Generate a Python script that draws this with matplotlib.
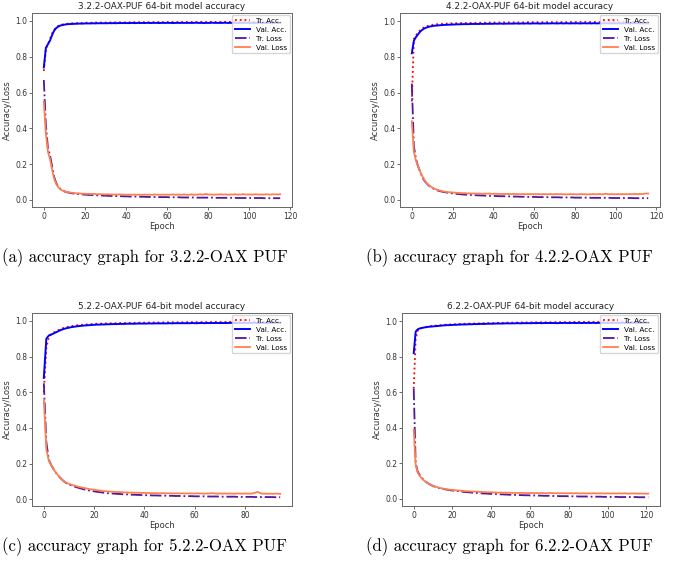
import numpy as np
import matplotlib
matplotlib.use("Agg")
from matplotlib import pyplot as plt

# ---- panel (a) 3.2.2-OAX PUF ----
a_tr_acc = [
    0.72, 0.84, 0.87, 0.90, 0.93, 0.95, 0.965, 0.972, 0.977, 0.980,
    0.982, 0.984, 0.985, 0.986, 0.987, 0.987, 0.988, 0.988, 0.989, 0.989,
    0.989, 0.990, 0.990, 0.990, 0.990, 0.991, 0.991, 0.991, 0.991, 0.991,
    0.991, 0.992, 0.991, 0.992, 0.992, 0.992, 0.992, 0.992, 0.992, 0.992,
    0.992, 0.993, 0.992, 0.993, 0.993, 0.993, 0.993, 0.993, 0.993, 0.993,
    0.993, 0.993, 0.993, 0.993, 0.993, 0.993, 0.994, 0.993, 0.993, 0.994,
    0.994, 0.993, 0.994, 0.994, 0.994, 0.994, 0.994, 0.994, 0.994, 0.994,
    0.994, 0.994, 0.994, 0.994, 0.994, 0.994, 0.994, 0.995, 0.994, 0.994,
    0.994, 0.995, 0.994, 0.995, 0.994, 0.995, 0.995, 0.994, 0.995, 0.995,
    0.995, 0.995, 0.995, 0.995, 0.995, 0.995, 0.995, 0.995, 0.995, 0.995,
    0.995, 0.995, 0.995, 0.995, 0.995, 0.995, 0.995, 0.995, 0.995, 0.995,
    0.995, 0.995, 0.995, 0.995, 0.995, 0.995]
a_val_acc = [
    0.74, 0.85, 0.87, 0.89, 0.92, 0.945, 0.96, 0.968, 0.974, 0.977,
    0.979, 0.981, 0.982, 0.983, 0.983, 0.984, 0.984, 0.985, 0.985, 0.985,
    0.986, 0.986, 0.986, 0.986, 0.987, 0.986, 0.987, 0.987, 0.987, 0.987,
    0.987, 0.987, 0.988, 0.987, 0.988, 0.987, 0.988, 0.988, 0.988, 0.988,
    0.988, 0.988, 0.988, 0.989, 0.988, 0.988, 0.989, 0.988, 0.989, 0.988,
    0.989, 0.989, 0.988, 0.989, 0.989, 0.989, 0.988, 0.989, 0.989, 0.989,
    0.989, 0.989, 0.989, 0.988, 0.989, 0.989, 0.989, 0.989, 0.989, 0.989,
    0.989, 0.989, 0.989, 0.989, 0.990, 0.989, 0.989, 0.989, 0.988, 0.989,
    0.989, 0.989, 0.990, 0.989, 0.989, 0.989, 0.989, 0.989, 0.990, 0.989,
    0.989, 0.989, 0.989, 0.990, 0.989, 0.989, 0.989, 0.989, 0.990, 0.989,
    0.989, 0.989, 0.989, 0.989, 0.989, 0.990, 0.989, 0.989, 0.989, 0.989,
    0.989, 0.989, 0.989, 0.990, 0.989, 0.989]
a_tr_loss = [
    0.67, 0.42, 0.29, 0.25, 0.19, 0.13, 0.095, 0.075, 0.062, 0.054,
    0.048, 0.044, 0.041, 0.039, 0.037, 0.035, 0.034, 0.033, 0.032, 0.031,
    0.030, 0.029, 0.028, 0.028, 0.027, 0.026, 0.026, 0.025, 0.025, 0.024,
    0.024, 0.023, 0.023, 0.022, 0.022, 0.022, 0.021, 0.021, 0.021, 0.020,
    0.020, 0.020, 0.019, 0.019, 0.019, 0.019, 0.018, 0.018, 0.018, 0.018,
    0.017, 0.017, 0.017, 0.017, 0.017, 0.016, 0.016, 0.016, 0.016, 0.016,
    0.016, 0.015, 0.015, 0.015, 0.015, 0.015, 0.015, 0.014, 0.014, 0.014,
    0.014, 0.014, 0.014, 0.014, 0.013, 0.013, 0.013, 0.013, 0.013, 0.013,
    0.013, 0.013, 0.013, 0.012, 0.012, 0.012, 0.012, 0.012, 0.012, 0.012,
    0.012, 0.012, 0.012, 0.012, 0.011, 0.011, 0.011, 0.011, 0.011, 0.011,
    0.011, 0.011, 0.011, 0.011, 0.011, 0.011, 0.011, 0.010, 0.010, 0.010,
    0.010, 0.010, 0.010, 0.010, 0.010, 0.010]
a_val_loss = [
    0.55, 0.37, 0.27, 0.23, 0.17, 0.12, 0.09, 0.072, 0.060, 0.053,
    0.048, 0.045, 0.043, 0.041, 0.040, 0.038, 0.037, 0.037, 0.036, 0.035,
    0.035, 0.034, 0.034, 0.033, 0.034, 0.033, 0.032, 0.033, 0.032, 0.032,
    0.031, 0.032, 0.031, 0.031, 0.030, 0.031, 0.030, 0.031, 0.030, 0.030,
    0.029, 0.030, 0.030, 0.029, 0.030, 0.029, 0.030, 0.029, 0.029, 0.030,
    0.029, 0.030, 0.029, 0.029, 0.031, 0.029, 0.030, 0.029, 0.030, 0.029,
    0.030, 0.029, 0.030, 0.031, 0.029, 0.030, 0.030, 0.029, 0.031, 0.030,
    0.029, 0.030, 0.031, 0.029, 0.030, 0.030, 0.032, 0.030, 0.031, 0.034,
    0.030, 0.031, 0.030, 0.029, 0.031, 0.030, 0.032, 0.030, 0.031, 0.030,
    0.029, 0.031, 0.030, 0.032, 0.030, 0.031, 0.030, 0.033, 0.030, 0.031,
    0.030, 0.031, 0.030, 0.032, 0.031, 0.030, 0.031, 0.030, 0.032, 0.031,
    0.030, 0.031, 0.032, 0.031, 0.031, 0.032]

# ---- panel (b) 4.2.2-OAX PUF ----
b_tr_acc = [
    0.55, 0.90, 0.92, 0.935, 0.948, 0.958, 0.965, 0.970, 0.974, 0.977,
    0.979, 0.981, 0.982, 0.983, 0.984, 0.985, 0.986, 0.986, 0.987, 0.987,
    0.988, 0.988, 0.988, 0.989, 0.989, 0.989, 0.989, 0.990, 0.990, 0.990,
    0.990, 0.990, 0.991, 0.991, 0.991, 0.991, 0.991, 0.991, 0.992, 0.992,
    0.992, 0.992, 0.992, 0.992, 0.992, 0.993, 0.992, 0.993, 0.993, 0.993,
    0.993, 0.993, 0.993, 0.993, 0.993, 0.993, 0.993, 0.994, 0.993, 0.994,
    0.994, 0.994, 0.994, 0.994, 0.994, 0.994, 0.994, 0.994, 0.994, 0.994,
    0.994, 0.994, 0.994, 0.994, 0.995, 0.994, 0.994, 0.995, 0.995, 0.994,
    0.995, 0.995, 0.995, 0.995, 0.995, 0.995, 0.995, 0.995, 0.995, 0.995,
    0.995, 0.995, 0.995, 0.995, 0.995, 0.995, 0.995, 0.995, 0.995, 0.995,
    0.995, 0.996, 0.995, 0.995, 0.996, 0.995, 0.996, 0.995, 0.996, 0.996,
    0.996, 0.996, 0.996, 0.996, 0.996, 0.996, 0.996]
b_val_acc = [
    0.82, 0.89, 0.91, 0.925, 0.94, 0.95, 0.958, 0.963, 0.967, 0.970,
    0.972, 0.974, 0.975, 0.976, 0.977, 0.978, 0.979, 0.979, 0.980, 0.980,
    0.981, 0.981, 0.982, 0.982, 0.982, 0.983, 0.983, 0.983, 0.983, 0.984,
    0.984, 0.984, 0.984, 0.984, 0.985, 0.984, 0.985, 0.985, 0.985, 0.985,
    0.985, 0.986, 0.985, 0.986, 0.986, 0.985, 0.986, 0.986, 0.986, 0.986,
    0.986, 0.987, 0.986, 0.986, 0.987, 0.986, 0.987, 0.987, 0.986, 0.987,
    0.987, 0.987, 0.987, 0.986, 0.987, 0.987, 0.987, 0.987, 0.987, 0.988,
    0.987, 0.987, 0.987, 0.988, 0.987, 0.987, 0.988, 0.987, 0.987, 0.988,
    0.987, 0.988, 0.987, 0.987, 0.988, 0.988, 0.987, 0.988, 0.987, 0.988,
    0.988, 0.987, 0.988, 0.988, 0.987, 0.988, 0.988, 0.988, 0.987, 0.988,
    0.988, 0.988, 0.987, 0.988, 0.988, 0.988, 0.988, 0.987, 0.988, 0.988,
    0.988, 0.988, 0.988, 0.987, 0.988, 0.988, 0.988]
b_tr_loss = [
    0.65, 0.30, 0.23, 0.19, 0.16, 0.13, 0.11, 0.095, 0.083, 0.074,
    0.066, 0.060, 0.055, 0.051, 0.048, 0.045, 0.043, 0.041, 0.039, 0.037,
    0.036, 0.034, 0.033, 0.032, 0.031, 0.030, 0.029, 0.028, 0.028, 0.027,
    0.026, 0.026, 0.025, 0.025, 0.024, 0.024, 0.023, 0.023, 0.022, 0.022,
    0.022, 0.021, 0.021, 0.020, 0.020, 0.020, 0.019, 0.019, 0.019, 0.018,
    0.018, 0.018, 0.018, 0.017, 0.017, 0.017, 0.017, 0.016, 0.016, 0.016,
    0.016, 0.016, 0.015, 0.015, 0.015, 0.015, 0.015, 0.014, 0.014, 0.014,
    0.014, 0.014, 0.014, 0.013, 0.013, 0.013, 0.013, 0.013, 0.013, 0.013,
    0.012, 0.012, 0.012, 0.012, 0.012, 0.012, 0.012, 0.012, 0.011, 0.011,
    0.011, 0.011, 0.011, 0.011, 0.011, 0.011, 0.011, 0.011, 0.010, 0.010,
    0.010, 0.010, 0.010, 0.010, 0.010, 0.010, 0.010, 0.010, 0.010, 0.009,
    0.009, 0.009, 0.009, 0.009, 0.009, 0.009, 0.009]
b_val_loss = [
    0.44, 0.27, 0.22, 0.19, 0.16, 0.135, 0.115, 0.097, 0.085, 0.076,
    0.069, 0.063, 0.058, 0.054, 0.051, 0.048, 0.046, 0.044, 0.043, 0.042,
    0.041, 0.040, 0.039, 0.038, 0.038, 0.037, 0.037, 0.036, 0.036, 0.035,
    0.035, 0.035, 0.034, 0.035, 0.034, 0.034, 0.035, 0.034, 0.035, 0.033,
    0.033, 0.034, 0.033, 0.033, 0.032, 0.033, 0.032, 0.033, 0.032, 0.032,
    0.033, 0.032, 0.032, 0.031, 0.032, 0.032, 0.031, 0.032, 0.032, 0.031,
    0.032, 0.031, 0.032, 0.031, 0.031, 0.032, 0.031, 0.031, 0.032, 0.031,
    0.031, 0.032, 0.031, 0.032, 0.031, 0.031, 0.030, 0.031, 0.032, 0.031,
    0.031, 0.030, 0.031, 0.032, 0.031, 0.031, 0.030, 0.031, 0.031, 0.032,
    0.031, 0.031, 0.032, 0.031, 0.031, 0.034, 0.032, 0.031, 0.032, 0.031,
    0.031, 0.032, 0.031, 0.032, 0.031, 0.032, 0.031, 0.032, 0.031, 0.033,
    0.032, 0.031, 0.033, 0.032, 0.034, 0.035, 0.035]

# ---- panel (c) 5.2.2-OAX PUF ----
c_tr_acc = [
    0.60, 0.85, 0.91, 0.925, 0.935, 0.943, 0.950, 0.956, 0.961, 0.965,
    0.968, 0.971, 0.973, 0.975, 0.977, 0.978, 0.979, 0.980, 0.981, 0.982,
    0.983, 0.984, 0.984, 0.985, 0.985, 0.986, 0.986, 0.987, 0.987, 0.987,
    0.988, 0.988, 0.988, 0.989, 0.989, 0.989, 0.989, 0.990, 0.990, 0.990,
    0.990, 0.990, 0.991, 0.991, 0.991, 0.991, 0.991, 0.991, 0.992, 0.992,
    0.992, 0.992, 0.992, 0.992, 0.992, 0.992, 0.993, 0.993, 0.993, 0.993,
    0.993, 0.993, 0.993, 0.993, 0.993, 0.993, 0.994, 0.993, 0.994, 0.994,
    0.994, 0.994, 0.994, 0.994, 0.994, 0.994, 0.994, 0.994, 0.994, 0.994,
    0.994, 0.995, 0.994, 0.995, 0.995, 0.994, 0.995, 0.995, 0.995, 0.995,
    0.995, 0.995, 0.995, 0.995, 0.995]
c_val_acc = [
    0.68, 0.90, 0.918, 0.924, 0.930, 0.937, 0.944, 0.950, 0.955, 0.959,
    0.962, 0.965, 0.967, 0.969, 0.971, 0.972, 0.974, 0.975, 0.976, 0.977,
    0.978, 0.979, 0.979, 0.980, 0.980, 0.981, 0.981, 0.982, 0.982, 0.982,
    0.983, 0.983, 0.983, 0.984, 0.984, 0.984, 0.984, 0.985, 0.985, 0.985,
    0.985, 0.985, 0.986, 0.985, 0.986, 0.986, 0.986, 0.986, 0.986, 0.986,
    0.987, 0.986, 0.987, 0.987, 0.987, 0.987, 0.987, 0.987, 0.987, 0.988,
    0.987, 0.987, 0.988, 0.988, 0.987, 0.988, 0.988, 0.988, 0.988, 0.988,
    0.988, 0.988, 0.988, 0.988, 0.989, 0.988, 0.988, 0.988, 0.989, 0.988,
    0.988, 0.989, 0.988, 0.989, 0.989, 0.987, 0.988, 0.989, 0.989, 0.988,
    0.989, 0.989, 0.989, 0.989, 0.989]
c_tr_loss = [
    0.65, 0.32, 0.22, 0.19, 0.165, 0.145, 0.128, 0.113, 0.100, 0.090,
    0.083, 0.077, 0.072, 0.067, 0.063, 0.059, 0.055, 0.052, 0.049, 0.046,
    0.044, 0.042, 0.040, 0.038, 0.036, 0.034, 0.033, 0.032, 0.031, 0.030,
    0.029, 0.028, 0.027, 0.027, 0.026, 0.025, 0.025, 0.024, 0.024, 0.023,
    0.023, 0.022, 0.022, 0.021, 0.021, 0.021, 0.020, 0.020, 0.020, 0.019,
    0.019, 0.019, 0.018, 0.018, 0.018, 0.018, 0.017, 0.017, 0.017, 0.017,
    0.016, 0.016, 0.016, 0.016, 0.016, 0.015, 0.015, 0.015, 0.015, 0.015,
    0.015, 0.014, 0.014, 0.014, 0.014, 0.014, 0.014, 0.013, 0.013, 0.013,
    0.013, 0.013, 0.013, 0.013, 0.012, 0.012, 0.012, 0.012, 0.012, 0.012,
    0.012, 0.012, 0.011, 0.011, 0.011]
c_val_loss = [
    0.56, 0.28, 0.215, 0.19, 0.165, 0.145, 0.128, 0.113, 0.100, 0.092,
    0.086, 0.081, 0.077, 0.073, 0.069, 0.066, 0.063, 0.060, 0.057, 0.055,
    0.053, 0.051, 0.049, 0.047, 0.045, 0.044, 0.043, 0.042, 0.041, 0.040,
    0.040, 0.039, 0.038, 0.038, 0.037, 0.037, 0.036, 0.036, 0.036, 0.035,
    0.035, 0.035, 0.034, 0.034, 0.034, 0.034, 0.033, 0.034, 0.033, 0.033,
    0.033, 0.033, 0.032, 0.033, 0.032, 0.033, 0.032, 0.032, 0.033, 0.032,
    0.032, 0.033, 0.032, 0.032, 0.031, 0.032, 0.032, 0.034, 0.032, 0.031,
    0.032, 0.031, 0.032, 0.031, 0.032, 0.031, 0.031, 0.032, 0.031, 0.031,
    0.032, 0.031, 0.031, 0.032, 0.036, 0.041, 0.034, 0.031, 0.031, 0.030,
    0.031, 0.030, 0.031, 0.031, 0.030]

# ---- panel (d) 6.2.2-OAX PUF ----
d_tr_acc = [
    0.62, 0.90, 0.945, 0.955, 0.960, 0.963, 0.966, 0.968, 0.970, 0.972,
    0.973, 0.974, 0.975, 0.976, 0.977, 0.978, 0.979, 0.980, 0.980, 0.981,
    0.982, 0.982, 0.983, 0.983, 0.984, 0.984, 0.985, 0.985, 0.985, 0.986,
    0.986, 0.986, 0.987, 0.987, 0.987, 0.988, 0.988, 0.988, 0.988, 0.989,
    0.989, 0.989, 0.989, 0.990, 0.990, 0.990, 0.990, 0.990, 0.991, 0.991,
    0.991, 0.991, 0.991, 0.991, 0.992, 0.992, 0.992, 0.992, 0.992, 0.992,
    0.992, 0.993, 0.993, 0.993, 0.993, 0.993, 0.993, 0.993, 0.993, 0.993,
    0.994, 0.993, 0.994, 0.994, 0.994, 0.994, 0.994, 0.994, 0.994, 0.994,
    0.994, 0.994, 0.994, 0.995, 0.994, 0.995, 0.995, 0.995, 0.995, 0.995,
    0.995, 0.995, 0.995, 0.995, 0.995, 0.995, 0.995, 0.995, 0.995, 0.995,
    0.995, 0.995, 0.995, 0.996, 0.995, 0.996, 0.995, 0.996, 0.996, 0.996,
    0.996, 0.996, 0.996, 0.996, 0.996, 0.996, 0.996, 0.996, 0.996, 0.996,
    0.996, 0.996]
d_val_acc = [
    0.82, 0.94, 0.953, 0.958, 0.961, 0.963, 0.965, 0.967, 0.968, 0.969,
    0.970, 0.971, 0.972, 0.973, 0.974, 0.975, 0.976, 0.977, 0.977, 0.978,
    0.978, 0.979, 0.979, 0.980, 0.980, 0.981, 0.981, 0.981, 0.982, 0.982,
    0.982, 0.983, 0.983, 0.983, 0.984, 0.984, 0.984, 0.984, 0.985, 0.985,
    0.985, 0.985, 0.986, 0.986, 0.986, 0.986, 0.986, 0.987, 0.987, 0.987,
    0.987, 0.987, 0.987, 0.988, 0.988, 0.987, 0.988, 0.988, 0.988, 0.988,
    0.988, 0.988, 0.989, 0.988, 0.989, 0.989, 0.988, 0.989, 0.989, 0.989,
    0.989, 0.989, 0.989, 0.989, 0.988, 0.989, 0.989, 0.989, 0.990, 0.989,
    0.989, 0.989, 0.990, 0.989, 0.989, 0.990, 0.989, 0.989, 0.990, 0.989,
    0.990, 0.989, 0.990, 0.990, 0.989, 0.990, 0.989, 0.990, 0.990, 0.989,
    0.990, 0.990, 0.989, 0.990, 0.990, 0.990, 0.989, 0.990, 0.990, 0.990,
    0.990, 0.989, 0.990, 0.990, 0.990, 0.990, 0.990, 0.989, 0.990, 0.990,
    0.990, 0.990]
d_tr_loss = [
    0.62, 0.20, 0.155, 0.135, 0.120, 0.108, 0.098, 0.090, 0.083, 0.077,
    0.072, 0.068, 0.064, 0.061, 0.058, 0.056, 0.054, 0.052, 0.050, 0.048,
    0.047, 0.045, 0.044, 0.043, 0.041, 0.040, 0.039, 0.038, 0.037, 0.036,
    0.035, 0.034, 0.033, 0.033, 0.032, 0.031, 0.030, 0.030, 0.029, 0.028,
    0.028, 0.027, 0.027, 0.026, 0.026, 0.025, 0.025, 0.024, 0.024, 0.023,
    0.023, 0.023, 0.022, 0.022, 0.021, 0.021, 0.021, 0.020, 0.020, 0.020,
    0.019, 0.019, 0.019, 0.018, 0.018, 0.018, 0.018, 0.017, 0.017, 0.017,
    0.017, 0.016, 0.016, 0.016, 0.016, 0.015, 0.015, 0.015, 0.015, 0.015,
    0.014, 0.014, 0.014, 0.014, 0.014, 0.013, 0.013, 0.013, 0.013, 0.013,
    0.013, 0.012, 0.012, 0.012, 0.012, 0.012, 0.012, 0.012, 0.011, 0.011,
    0.011, 0.011, 0.011, 0.011, 0.011, 0.011, 0.010, 0.010, 0.010, 0.010,
    0.010, 0.010, 0.010, 0.010, 0.010, 0.010, 0.009, 0.009, 0.009, 0.009,
    0.009, 0.009]
d_val_loss = [
    0.39, 0.19, 0.150, 0.130, 0.117, 0.106, 0.097, 0.090, 0.084, 0.078,
    0.073, 0.069, 0.066, 0.063, 0.060, 0.058, 0.056, 0.054, 0.052, 0.051,
    0.050, 0.049, 0.048, 0.047, 0.046, 0.045, 0.044, 0.043, 0.043, 0.042,
    0.041, 0.041, 0.040, 0.040, 0.039, 0.039, 0.038, 0.038, 0.037, 0.037,
    0.037, 0.036, 0.036, 0.035, 0.035, 0.035, 0.034, 0.035, 0.034, 0.034,
    0.034, 0.033, 0.034, 0.033, 0.033, 0.034, 0.033, 0.033, 0.032, 0.033,
    0.032, 0.033, 0.032, 0.033, 0.032, 0.032, 0.033, 0.032, 0.031, 0.032,
    0.033, 0.032, 0.032, 0.031, 0.032, 0.031, 0.032, 0.031, 0.032, 0.031,
    0.031, 0.032, 0.031, 0.031, 0.032, 0.031, 0.030, 0.031, 0.031, 0.030,
    0.031, 0.030, 0.031, 0.032, 0.030, 0.031, 0.030, 0.031, 0.030, 0.030,
    0.031, 0.030, 0.030, 0.031, 0.030, 0.030, 0.031, 0.030, 0.030, 0.031,
    0.030, 0.029, 0.030, 0.030, 0.030, 0.030, 0.029, 0.030, 0.029, 0.030,
    0.029, 0.029]

titles = ["3.2.2-OAX-PUF 64-bit model accuracy", "4.2.2-OAX-PUF 64-bit model accuracy",
          "5.2.2-OAX-PUF 64-bit model accuracy", "6.2.2-OAX-PUF 64-bit model accuracy"]
captions = ["(a) accuracy graph for 3.2.2-OAX PUF", "(b) accuracy graph for 4.2.2-OAX PUF",
            "(c) accuracy graph for 5.2.2-OAX PUF", "(d) accuracy graph for 6.2.2-OAX PUF"]
legend_labels = ["Tr. Acc.", "Val. Acc.", "Tr. Loss", "Val. Loss"]

panels = [
    (a_tr_acc, a_val_acc, a_tr_loss, a_val_loss),
    (b_tr_acc, b_val_acc, b_tr_loss, b_val_loss),
    (c_tr_acc, c_val_acc, c_tr_loss, c_val_loss),
    (d_tr_acc, d_val_acc, d_tr_loss, d_val_loss),
]

W, H = 685, 566
# axes boxes in pixels: left, top, right, bottom
boxes = [(32, 13, 292, 207), (400, 13, 660, 207),
         (32, 313, 292, 506), (402, 313, 660, 506)]
cap_pos = [(2, 258), (366, 258), (2, 547), (366, 547)]

fig = plt.figure(figsize=(W / 100, H / 100), dpi=100)

styles = [dict(color="red", ls=":", lw=1.3),
          dict(color="blue", ls="-", lw=1.4),
          dict(color="#50189a", ls="-.", lw=1.3),
          dict(color="coral", ls="-", lw=1.3)]

for i, series in enumerate(panels):
    l, t, r, b = boxes[i]
    ax = fig.add_axes([l / W, (H - b) / H, (r - l) / W, (b - t) / H])
    for s, st, lab in zip(series, styles, legend_labels):
        ax.plot(np.arange(len(s)), s, label=lab, **st)
    ax.set_title(titles[i], fontsize=6.4, pad=3, color="#222")
    ax.set_xlabel("Epoch", fontsize=6, labelpad=1, color="#333")
    ax.set_ylabel("Accuracy/Loss", fontsize=6, labelpad=2, color="#333")
    ax.tick_params(labelsize=5.5, length=2, width=0.5, pad=1.5, colors="#333")
    for sp in ax.spines.values():
        sp.set_linewidth(0.7)
        sp.set_color("#666")
    ax.legend(loc="upper right", fontsize=5.2, handlelength=2.2,
              borderpad=0.35, labelspacing=0.4, borderaxespad=0.3)
    cx, cy = cap_pos[i]
    fig.text(cx / W, 1 - cy / H, captions[i], family="cmr10", fontsize=12,
             ha="left", va="center")

fig.savefig("out.png", dpi=100)
